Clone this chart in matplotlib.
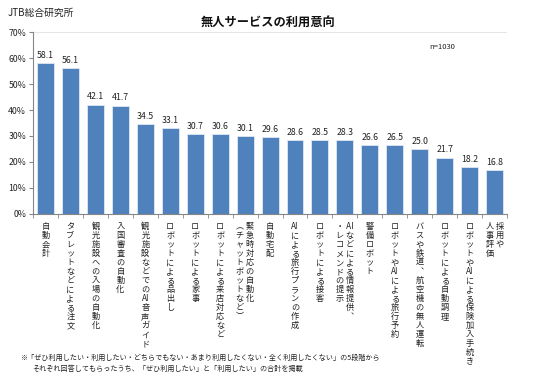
import numpy as np
import matplotlib
matplotlib.use("Agg")
import matplotlib.pyplot as plt

plt.rcParams['font.family'] = ['Noto Sans CJK JP', 'DejaVu Sans']

# ---------------- Data ----------------
# each label: list of columns, first column is the rightmost one (vertical Japanese)
# "AI" is kept as one cell (tate-chu-yoko)
labels = [
    [["自", "動", "会", "計"]],
    [list("タブレットなどによる注文")],
    [list("観光施設への入場の自動化")],
    [list("入国審査の自動化")],
    [list("観光施設などでの") + ["AI"] + list("音声ガイド")],
    [list("ロボットによる品出し")],
    [list("ロボットによる家事")],
    [list("ロボットによる来店対応など")],
    [list("緊急時対応の自動化"), list("︵チャットボットなど︶")],
    [list("自動宅配")],
    [["AI"] + list("による旅行プランの作成")],
    [list("ロボットによる接客")],
    [["AI"] + list("などによる情報提供︑"), list("・レコメンドの提示")],
    [list("警備ロボット")],
    [list("ロボットや") + ["AI"] + list("による旅行予約")],
    [list("バスや鉄道︑航空機の無人運転")],
    [list("ロボットによる自動調理")],
    [list("ロボットや") + ["AI"] + list("による保険加入手続き")],
    [list("採用や"), list("人事評価")],
]
values = [58.1, 56.1, 42.1, 41.7, 34.5, 33.1, 30.7, 30.6, 30.1, 29.6,
          28.6, 28.5, 28.3, 26.6, 26.5, 25.0, 21.7, 18.2, 16.8]
yticks = [0, 10, 20, 30, 40, 50, 60, 70]

BAR = "#4F81BD"
GRAY = "#868686"


def vertical(cols):
    # build vertical text row by row; later columns go to the left
    n = max(len(c) for c in cols)
    rows = []
    for k in range(n):
        cells = [c[k] if k < len(c) else "　" for c in reversed(cols)]
        rows.append(" ".join(cells).rstrip("　"))
    return "\n".join(rows)


fig = plt.figure(figsize=(5.36, 3.82), dpi=100)
ax = fig.add_axes([0.0616, 0.44, 0.8844, 0.476])

x = np.arange(len(values))
ax.bar(x, values, width=0.68, color=BAR, edgecolor="#dfe8f3", linewidth=0.6, zorder=2)

for xi, v in zip(x, values):
    ax.text(xi, v + 1.2, f"{v:.1f}", ha="center", va="bottom", fontsize=6.3, color="#222")

ax.set_xlim(-0.5, len(values) - 0.5)
ax.set_ylim(0, 70)
ax.set_yticks(yticks)
ax.set_yticklabels([f"{t}%" for t in yticks], fontsize=6.3, color="#222")
ax.axhline(70, color="#e6e6e6", lw=0.8, zorder=1)

ax.set_xticks(x)
ticklabels = ax.set_xticklabels([vertical(l) for l in labels], fontsize=5.9, va="top",
                                ha="center", linespacing=1.0, color="#222")
# two-column labels: keep the columns lined up
for t, l in zip(ticklabels, labels):
    if len(l) > 1:
        t.set_multialignment("left")
ax.set_xticks(np.arange(len(values) + 1) - 0.5, minor=True)
ax.tick_params(axis="x", which="major", length=0, pad=6)
ax.tick_params(axis="x", which="minor", length=3, color=GRAY, direction="out")
ax.tick_params(axis="y", length=3, color=GRAY, direction="out", pad=2)

for s in ["top", "right"]:
    ax.spines[s].set_visible(False)
ax.spines["left"].set_color(GRAY)
ax.spines["bottom"].set_color(GRAY)
ax.spines["left"].set_linewidth(0.8)
ax.spines["bottom"].set_linewidth(0.8)

fig.text(0.015, 0.978, "JTB総合研究所", fontsize=7, va="top", ha="left", color="#222")
fig.text(0.5, 0.942, "無人サービスの利用意向", fontsize=8.8, fontweight="bold",
         va="center", ha="center", color="#111")
fig.text(0.80, 0.876, "n=1030", fontsize=5.5, va="center", ha="left", color="#222")

fig.text(0.038, 0.062, "※「ぜひ利用したい・利用したい・どちらでもない・あまり利用したくない・全く利用したくない」の5段階から",
         fontsize=5.1, va="center", ha="left", color="#222")
fig.text(0.060, 0.034, "それぞれ回答してもらったうち、「ぜひ利用したい」と「利用したい」の合計を掲載",
         fontsize=5.1, va="center", ha="left", color="#222")

fig.savefig("out.png", dpi=100)
